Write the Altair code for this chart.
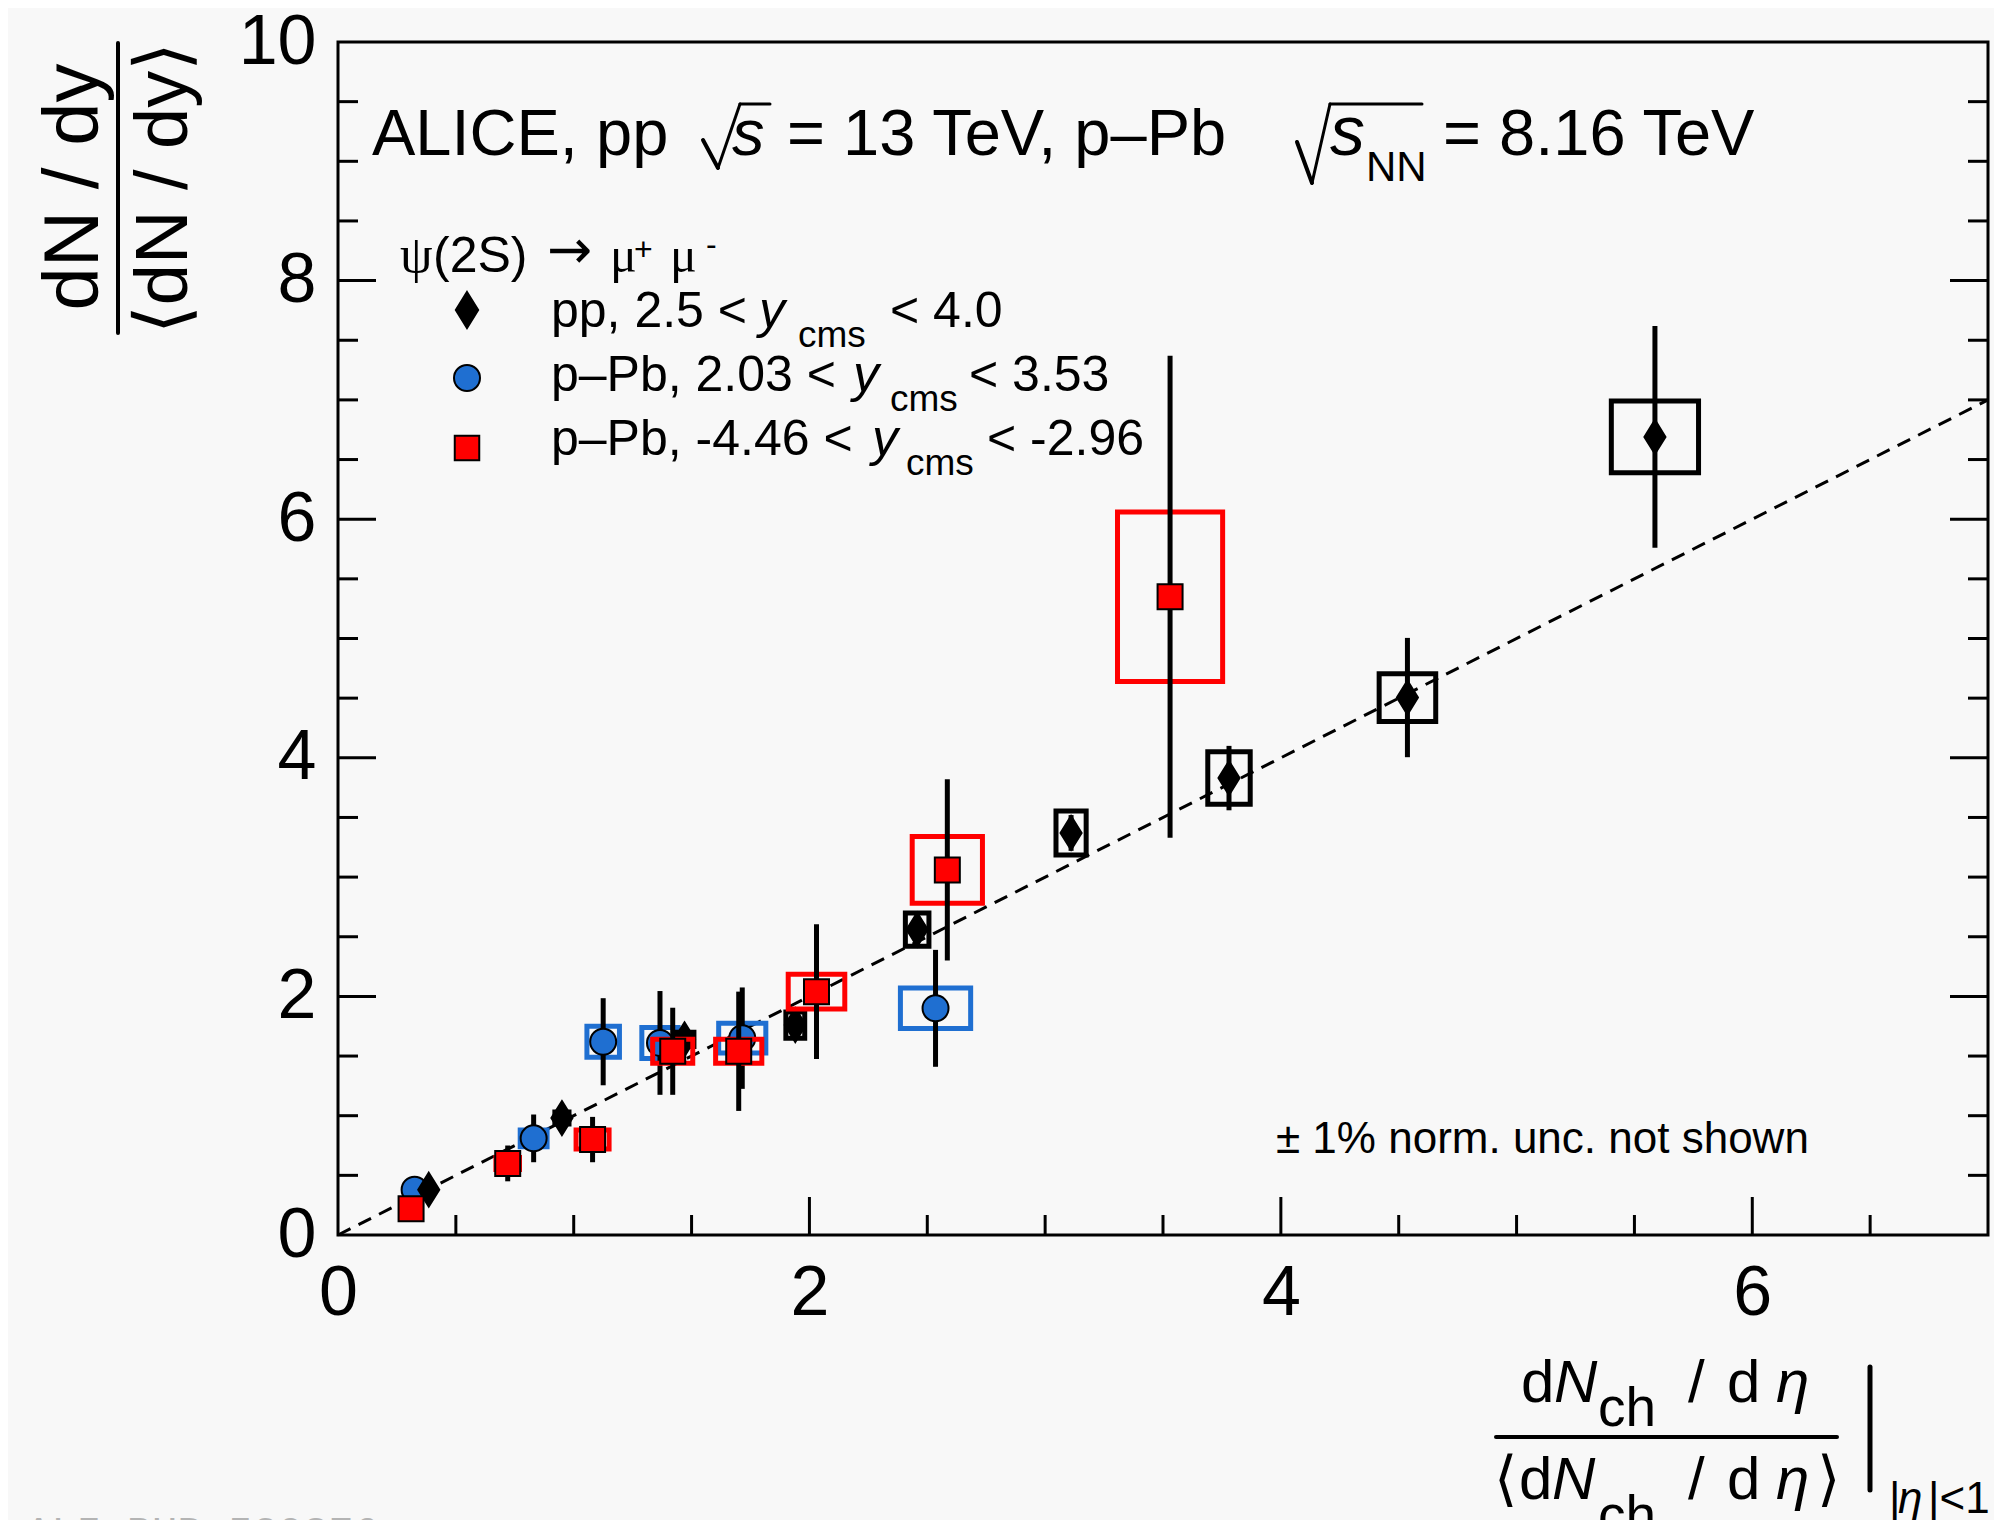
import altair as alt
import pandas as pd

# ---------------- data ----------------
# pp, 2.5 < y_cms < 4.0  (black diamonds)
pp_x    = [0.385, 0.95, 1.47, 1.94, 2.457, 3.11, 3.78, 4.537, 5.587]
pp_y    = [0.38, 0.98, 1.64, 1.76, 2.56, 3.37, 3.83, 4.505, 6.69]
pp_stat = [0.03, 0.05, 0.08, 0.10, 0.13, 0.15, 0.27, 0.50, 0.93]
pp_sys  = [0.03, 0.05, 0.06, 0.11, 0.14, 0.185, 0.22, 0.20, 0.30]
pp_bw   = [0.02, 0.03, 0.04, 0.04, 0.05, 0.064, 0.09, 0.12, 0.185]

# p-Pb, 2.03 < y_cms < 3.53  (blue circles)
fw_x    = [0.325, 0.83, 1.125, 1.366, 1.715, 2.535]
fw_y    = [0.38, 0.81, 1.62, 1.61, 1.65, 1.90]
fw_stat = [0.05, 0.20, 0.365, 0.435, 0.425, 0.49]
fw_sys  = [0.03, 0.07, 0.13, 0.13, 0.125, 0.17]
fw_bw   = [0.03, 0.057, 0.069, 0.077, 0.10, 0.149]

# p-Pb, -4.46 < y_cms < -2.96  (red squares)
bw_x    = [0.31, 0.72, 1.08, 1.42, 1.70, 2.03, 2.585, 3.53]
bw_y    = [0.22, 0.60, 0.80, 1.54, 1.54, 2.04, 3.06, 5.35]
bw_stat = [0.04, 0.15, 0.19, 0.365, 0.50, 0.565, 0.76, 2.02]
bw_sys  = [0.03, 0.05, 0.08, 0.10, 0.10, 0.145, 0.28, 0.71]
bw_bw   = [0.03, 0.05, 0.07, 0.085, 0.098, 0.12, 0.149, 0.223]

# y = x reference line
line_x = [0, 7]
line_y = [0, 7]

# axis ticks / labels
x_labels = [0, 2, 4, 6]
y_labels = [0, 2, 4, 6, 8, 10]
x_major = [2, 4, 6]
x_minor = [0.5, 1, 1.5, 2.5, 3, 3.5, 4.5, 5, 5.5, 6.5]
y_major = [2, 4, 6, 8]
y_minor = [0.5, 1, 1.5, 2.5, 3, 3.5, 4.5, 5, 5.5, 6.5, 7, 7.5, 8.5, 9, 9.5]

# ---------------- layout ----------------
W, H = 1650, 1193
X0, Y0 = 338, 42          # page position of plot origin (top-left)
FONT = "Liberation Sans"
SERIF = "Liberation Serif"
RED = "#ff0000"
BLUE = "#1f6fd1"

xs = alt.Scale(domain=[0, 7], nice=False, zero=False)
ys = alt.Scale(domain=[0, 10], nice=False, zero=False)
xaxis = alt.Axis(values=x_labels, title=None, ticks=False, domain=False, grid=False,
                 labelFontSize=70, labelFont=FONT, labelColor="black", labelPadding=24,
                 labelFlush=False, labelOverlap=False, labelBound=False)
yaxis = alt.Axis(values=y_labels, title=None, ticks=False, domain=False, grid=False,
                 labelFontSize=70, labelFont=FONT, labelColor="black", labelPadding=22,
                 labelFlush=False, labelOverlap=False, labelBound=False)


def X(f):
    return alt.X(f, type="quantitative", scale=xs, axis=xaxis)


def Y(f):
    return alt.Y(f, type="quantitative", scale=ys, axis=yaxis)


def sdf(x, y, st, sy, bw):
    return pd.DataFrame({
        "x": x, "y": y,
        "lo": [a - b for a, b in zip(y, st)], "hi": [a + b for a, b in zip(y, st)],
        "bx0": [a - b for a, b in zip(x, bw)], "bx1": [a + b for a, b in zip(x, bw)],
        "by0": [a - b for a, b in zip(y, sy)], "by1": [a + b for a, b in zip(y, sy)],
    })


pp = sdf(pp_x, pp_y, pp_stat, pp_sys, pp_bw)
fw = sdf(fw_x, fw_y, fw_stat, fw_sys, fw_bw)
bw = sdf(bw_x, bw_y, bw_stat, bw_sys, bw_bw)

DIAMOND = "M0,-1L0.62,0L0,1L-0.62,0Z"


def series_layers(df, color, shape, size, box_color):
    box = alt.Chart(df).mark_rect(fillOpacity=0, stroke=box_color, strokeWidth=5).encode(
        x=X("bx0"), x2=alt.X2("bx1"), y=Y("by0"), y2=alt.Y2("by1"))
    bar = alt.Chart(df).mark_rule(color="black", strokeWidth=5).encode(
        x=X("x"), y=Y("lo"), y2=alt.Y2("hi"))
    pt = alt.Chart(df).mark_point(shape=shape, size=size, filled=True, fill=color,
                                  stroke="black", strokeWidth=2, opacity=1).encode(
        x=X("x"), y=Y("y"))
    return [box, bar, pt]


line = alt.Chart(pd.DataFrame({"x": line_x, "y": line_y})).mark_line(
    color="black", strokeWidth=3, strokeDash=[14, 9]).encode(x=X("x"), y=Y("y"))


def xticks(vals, L):
    return alt.Chart(pd.DataFrame({"v": vals})).mark_rule(color="black", strokeWidth=3).encode(
        x=X("v"), y=alt.value(H), y2=alt.value(H - L))


def yticks(vals, L, right=False):
    x0 = W if right else 0
    x1 = W - L if right else L
    return alt.Chart(pd.DataFrame({"v": vals})).mark_rule(color="black", strokeWidth=3).encode(
        y=Y("v"), x=alt.value(x0), x2=alt.value(x1))


one = pd.DataFrame({"k": [0]})


def txt(s, x, y, size, italic=False, font=FONT, align="left", baseline="alphabetic",
        angle=0, color="black"):
    kw = dict(text=s, fontSize=size, font=font, align=align, baseline=baseline, color=color)
    if italic:
        kw["fontStyle"] = "italic"
    if angle:
        kw["angle"] = angle
    return alt.Chart(one).mark_text(**kw).encode(x=alt.value(x - X0), y=alt.value(y - Y0))


def seg(x0, y0, x1, y1, w=3):
    return alt.Chart(one).mark_rule(color="black", strokeWidth=w, strokeCap="round").encode(
        x=alt.value(x0 - X0), y=alt.value(y0 - Y0),
        x2=alt.value(x1 - X0), y2=alt.value(y1 - Y0))


def legpt(x, y, shape, size, color):
    return alt.Chart(one).mark_point(shape=shape, size=size, filled=True, fill=color,
                                     stroke="black", strokeWidth=2, opacity=1).encode(
        x=alt.value(x - X0), y=alt.value(y - Y0))


def radical(xa, ya, xb, yb, xc, yc, xd):
    return [seg(xa, ya, xb, yb, 4), seg(xb, yb, xc, yc, 3), seg(xc, yc, xd, yc, 3)]


layers = [line]
layers += [xticks(x_major, 38), xticks(x_minor, 20),
           yticks(y_major, 38), yticks(y_minor, 20),
           yticks(y_major, 38, True), yticks(y_minor, 20, True)]
layers += series_layers(fw, BLUE, "circle", 676, BLUE)
layers += series_layers(pp, "black", DIAMOND, 1156, "black")
layers += series_layers(bw, RED, "square", 625, RED)

# header
layers += [txt("ALICE, pp", 372, 155, 65)]
layers += radical(703, 140, 718, 168, 740, 104, 770)
layers += [txt("s", 732, 155, 65, italic=True),
           txt("= 13 TeV, p–Pb", 787, 155, 65)]
layers += radical(1297, 142, 1312, 183, 1330, 104, 1422)
layers += [txt("s", 1330, 155, 70, italic=True),
           txt("NN", 1366, 181, 42),
           txt("= 8.16 TeV", 1443, 155, 65)]
# legend
layers += [
    txt("ψ", 400, 272, 52, font=SERIF),
    txt("(2S)", 433, 272, 50),
    txt("→", 547, 268, 54, font="DejaVu Sans"),
    txt("μ", 610, 272, 50, font=SERIF),
    txt("+", 634, 260, 32),
    txt("μ", 670, 272, 50, font=SERIF),
    txt("-", 706, 255, 32),
    legpt(467, 310, DIAMOND, 1300, "black"),
    legpt(467, 378, "circle", 676, BLUE),
    legpt(467, 448, "square", 600, RED),
    txt("pp, 2.5 <", 551, 327, 50),
    txt("y", 759, 327, 52, italic=True),
    txt("cms", 798, 347, 37),
    txt("< 4.0", 890, 327, 50),
    txt("p–Pb, 2.03 <", 551, 391, 50),
    txt("y", 853, 391, 52, italic=True),
    txt("cms", 890, 411, 37),
    txt("< 3.53", 969, 391, 50),
    txt("p–Pb, -4.46 <", 551, 455, 50),
    txt("y", 872, 455, 52, italic=True),
    txt("cms", 906, 475, 37),
    txt("< -2.96", 987, 455, 50),
    txt("± 1% norm. unc. not shown", 1276, 1153, 44),
]
# y-axis title (rotated fraction)
layers += [
    txt("dN / dy", 98, 187, 78, align="center", angle=270),
    seg(118, 43, 118, 333, 4),
    txt("⟨dN / dy⟩", 187, 188, 74, align="center", angle=270),
]
# x-axis title (fraction)
layers += [
    txt("d", 1521, 1402, 60),
    txt("N", 1554, 1402, 60, italic=True),
    txt("ch", 1598, 1426, 55),
    txt("/", 1688, 1402, 60),
    txt("d", 1727, 1402, 60),
    txt("η", 1776, 1402, 60, italic=True),
    seg(1496, 1437, 1837, 1437, 4),
    txt("⟨", 1494, 1499, 60),
    txt("d", 1519, 1499, 60),
    txt("N", 1552, 1499, 60, italic=True),
    txt("ch", 1598, 1534, 55),
    txt("/", 1688, 1499, 60),
    txt("d", 1727, 1499, 60),
    txt("η", 1776, 1499, 60, italic=True),
    txt("⟩", 1817, 1499, 60),
    seg(1870, 1367, 1870, 1490, 5),
    txt("|", 1889, 1513, 44),
    txt("η", 1898, 1513, 44, italic=True),
    txt("|<1", 1928, 1513, 44),
    txt("ALI-PUB-520876", 26, 1513, 42, font="Liberation Mono", baseline="top", color="#b4b4b4"),
]

chart = alt.layer(*layers).properties(
    width=W, height=H,
    autosize="none",
    padding={"left": 330, "top": 34, "right": 6, "bottom": 285},
    background="#f8f8f8",
).configure_view(stroke="black", strokeWidth=3)

chart.save("out.html", embed_options={"renderer": "svg", "actions": False})
